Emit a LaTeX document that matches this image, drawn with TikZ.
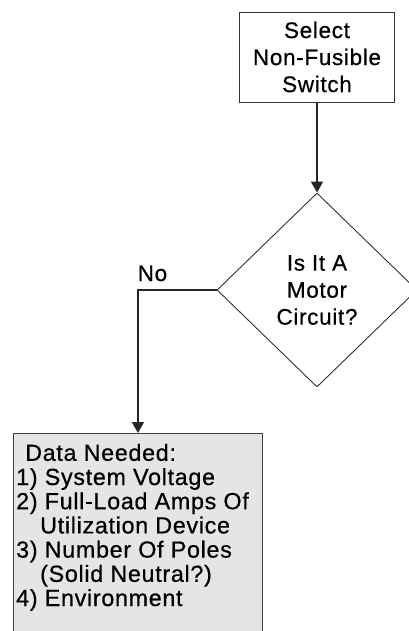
\documentclass[tikz,border=0pt]{standalone}
\usepackage{fontspec}
\setmainfont{Liberation Sans}[LetterSpace=3, FakeBold=0.6]
\usetikzlibrary{shapes.geometric,arrows.meta}
\begin{document}
\begin{tikzpicture}[x=1pt,y=-1pt,
  every node/.style={font=\fontsize{22.5pt}{27pt}\selectfont, inner sep=0pt},
  whitebox/.style={draw=black!80, line width=0.9pt, fill=white, rectangle,
    minimum width=155pt, minimum height=90pt, align=center},
  decision/.style={draw=black!80, line width=0.9pt, fill=white, diamond,
    minimum width=200pt, minimum height=194pt, align=center},
  graybox/.style={draw=black!75, line width=0.9pt, fill=black!10, rectangle,
    minimum width=249pt, minimum height=240pt},
  arrowline/.style={draw=black!85, line width=1.6pt,
    -{Triangle[width=12pt,length=11pt]}}
]
\useasboundingbox (0,0) rectangle (409,631);
\clip (0,0) rectangle (409,631);
\fill[white] (0,0) rectangle (409,631);

\node (sel) [whitebox] at (317,57) {Select\\Non-Fusible\\Switch};
\node (dec) [decision] at (317,290) {Is It A\\Motor\\Circuit?};
\node (data) [graybox, anchor=north west] at (13,433) {};
\node (datatext) [anchor=base west, align=left,
  font=\fontsize{23.3pt}{24.2pt}\selectfont] at (16,606)
  {\hspace*{9pt}Data Needed:\\
   1) System Voltage\\
   2) Full-Load Amps Of\\
   \hspace*{24pt}Utilization Device\\
   3) Number Of Poles\\
   \hspace*{24pt}(Solid Neutral?)\\
   4) Environment};

\draw[arrowline] (sel.south) -- (dec.north);
\draw[arrowline] (dec.west) -| (data.north)
  node (no) [pos=0.5, anchor=base west, xshift=-1pt, yshift=9pt] {No};
\end{tikzpicture}
\end{document}
